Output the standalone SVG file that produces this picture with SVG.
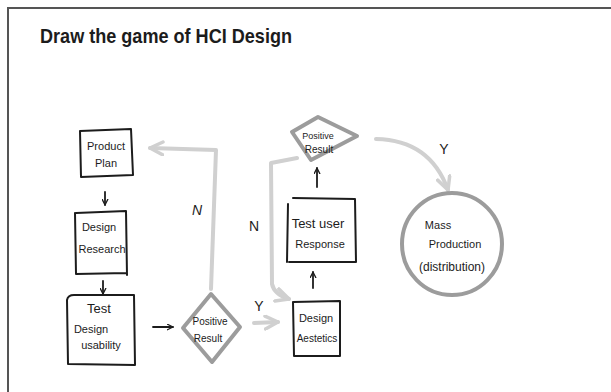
<svg xmlns="http://www.w3.org/2000/svg" width="611" height="392" viewBox="0 0 611 392">
  <defs>
    <style>
      .ink { fill: none; stroke: #1c1c1c; stroke-width: 2; stroke-linejoin: round; stroke-linecap: round; }
      .shape-grey { fill: none; stroke: #9c9c9c; stroke-width: 4; stroke-linejoin: round; }
      .flow-pale { fill: none; stroke: #d0d0d0; stroke-width: 4; stroke-linecap: round; stroke-linejoin: round; }
      .flow-ink { fill: none; stroke: #1c1c1c; stroke-width: 1.8; stroke-linecap: round; }
      text { font-family: "Liberation Sans", Arial, sans-serif; fill: #1c1c1c; text-anchor: middle; }
      .lbl { font-size: 11px; }
      .big { font-size: 13px; }
      .tag { font-size: 14px; }
    </style>
    <marker id="head-ink" viewBox="0 0 10 10" refX="9" refY="5" markerWidth="7" markerHeight="7" orient="auto" markerUnits="userSpaceOnUse">
      <path d="M1,1 L9,5 L1,9" fill="none" stroke="#1c1c1c" stroke-width="1.8" stroke-linecap="round" stroke-linejoin="round"/>
    </marker>
    <marker id="head-pale" viewBox="0 0 10 10" refX="9" refY="5" markerWidth="16" markerHeight="16" orient="auto" markerUnits="userSpaceOnUse">
      <path d="M1,1 L9,5 L1,9" fill="none" stroke="#d0d0d0" stroke-width="2.2" stroke-linecap="round" stroke-linejoin="round"/>
    </marker>
  </defs>

  <rect width="611" height="392" fill="#ffffff"/>
  <!-- page frame -->
  <path d="M8,392 L8,8 L611,8" fill="none" stroke="#555555" stroke-width="2"/>

  <text x="40" y="43" style="font-size:21px;font-weight:bold;text-anchor:start" textLength="252" lengthAdjust="spacingAndGlyphs">Draw the game of HCI Design</text>

  <!-- connectors -->
  <g id="connectors">
    <path class="flow-ink" d="M105,192 L105,205" marker-end="url(#head-ink)"/>
    <path class="flow-ink" d="M103,281 L103,294" marker-end="url(#head-ink)"/>
    <path class="flow-ink" d="M153,327 L173,327" marker-end="url(#head-ink)"/>
    <path class="flow-ink" d="M313,288 L313,272" marker-end="url(#head-ink)"/>
    <path class="flow-ink" d="M317,187 L317,168" marker-end="url(#head-ink)"/>

    <!-- N: back to product plan -->
    <path class="flow-pale" d="M211,289 L216,150 L150,148" marker-end="url(#head-pale)"/>
    <!-- Y: to design aesthetics -->
    <path class="flow-pale" d="M254,323 L278,322" marker-end="url(#head-pale)"/>
    <!-- N: back to design aesthetics -->
    <path class="flow-pale" d="M297,158 L271,163 L272,284 Q274,294 289,299" marker-end="url(#head-pale)"/>
    <!-- Y: to mass production -->
    <path class="flow-pale" d="M376,139 Q430,140 448,190" marker-end="url(#head-pale)"/>

    <text x="197" y="215" class="tag" style="font-style:italic">N</text>
    <text x="254" y="231" class="tag">N</text>
    <text x="259" y="311" class="tag">Y</text>
    <text x="444" y="154" class="tag">Y</text>
  </g>

  <g id="product-plan">
    <path class="ink" d="M80,131 L131,129 L133,175 L81,177 Z"/>
    <text x="106" y="150" class="lbl">Product</text>
    <text x="106" y="167" class="lbl">Plan</text>
  </g>

  <g id="design-research">
    <path class="ink" d="M76,213 L126,211 L127,275 M75,213 L76,274 L127,273"/>
    <text x="99" y="231" class="lbl">Design</text>
    <text x="102" y="253" class="lbl">Research</text>
  </g>

  <g id="test-design-usability">
    <path class="ink" d="M67,300 Q68,295 74,295 L134,295 L135,365 L68,364 Z"/>
    <text x="99" y="313" class="big">Test</text>
    <text x="91" y="333" class="lbl">Design</text>
    <text x="101" y="349" class="lbl">usability</text>
  </g>

  <g id="positive-result-1">
    <path class="shape-grey" d="M211,294 L240,327 L212,362 L183,328 Z"/>
    <text x="210" y="325" style="font-size:10px">Positive</text>
    <text x="208" y="342" style="font-size:10px">Result</text>
  </g>

  <g id="design-aesthetics">
    <path class="ink" d="M293,302 L340,301 L340,356 L294,356 Z"/>
    <text x="316" y="322" class="lbl">Design</text>
    <text x="317" y="342" style="font-size:10px">Aestetics</text>
  </g>

  <g id="test-user-response">
    <path class="ink" d="M293,198 L355,199 L356,262 L289,262 M288,204 L287,262"/>
    <text x="318" y="228" class="big">Test user</text>
    <text x="320" y="248" class="lbl">Response</text>
  </g>

  <g id="positive-result-2">
    <path class="shape-grey" d="M292,132 L318,117 L357,136 L311,160 Z"/>
    <text x="318" y="139" style="font-size:9px">Positive</text>
    <text x="319" y="153" style="font-size:10px">Result</text>
  </g>

  <g id="mass-production">
    <ellipse class="shape-grey" cx="452" cy="244" rx="50" ry="51"/>
    <text x="438" y="229" class="lbl">Mass</text>
    <text x="455" y="248" class="lbl">Production</text>
    <text x="452" y="271" style="font-size:12px">(distribution)</text>
  </g>
</svg>
